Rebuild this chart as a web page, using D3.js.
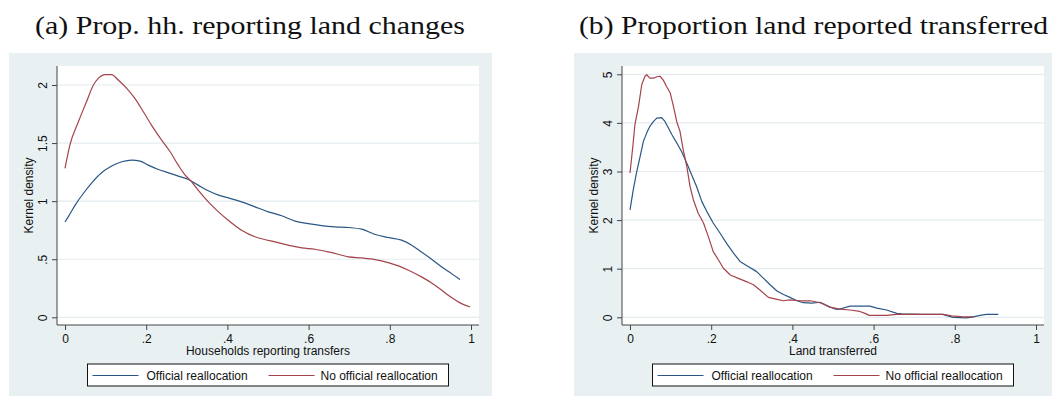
<!DOCTYPE html>
<html>
<head>
<meta charset="utf-8">
<script src="https://cdn.jsdelivr.net/npm/d3@7"></script>
<style>
  body { margin: 0; background: #fff; }
  text { font-family: "Liberation Sans", Arial, sans-serif; }
</style>
</head>
<body>
<div id="chart"></div>
<script>
// series names (legend)
var seriesNames = ["Official reallocation", "No official reallocation"];
var seriesColors = ["#2a5783", "#a3434b"];

// panel (a): households reporting transfers, [x, density]
var aOfficial = [[0,0.822],[0.008,0.865],[0.025,0.966],[0.045,1.066],[0.066,1.158],[0.09,1.244],[0.115,1.302],
  [0.14,1.339],[0.164,1.353],[0.185,1.345],[0.205,1.31],[0.23,1.273],[0.255,1.244],[0.279,1.216],[0.304,1.187],
  [0.328,1.138],[0.353,1.089],[0.378,1.052],[0.402,1.029],[0.435,0.994],[0.468,0.951],[0.501,0.908],[0.534,0.874],
  [0.567,0.828],[0.599,0.807],[0.632,0.79],[0.665,0.779],[0.698,0.773],[0.731,0.759],[0.764,0.713],[0.796,0.687],
  [0.829,0.664],[0.854,0.621],[0.878,0.563],[0.903,0.5],[0.928,0.434],[0.952,0.376],[0.973,0.325]];
var aNoOfficial = [[0,1.282],[0.012,1.483],[0.033,1.684],[0.053,1.856],[0.07,2.0],[0.082,2.057],[0.099,2.089],
  [0.115,2.089],[0.131,2.043],[0.152,1.971],[0.172,1.885],[0.193,1.77],[0.213,1.655],[0.238,1.526],[0.259,1.425],
  [0.279,1.31],[0.296,1.224],[0.312,1.167],[0.328,1.095],[0.353,0.994],[0.378,0.908],[0.402,0.836],[0.435,0.75],
  [0.468,0.693],[0.489,0.672],[0.517,0.649],[0.55,0.621],[0.583,0.598],[0.616,0.586],[0.649,0.563],[0.673,0.543],
  [0.698,0.52],[0.731,0.511],[0.764,0.497],[0.796,0.471],[0.821,0.443],[0.846,0.405],[0.878,0.348],[0.903,0.296],
  [0.928,0.233],[0.952,0.17],[0.973,0.124],[0.998,0.089]];

// panel (b): land transferred, [x, density]
var bOfficial = [[0,2.21],[0.008,2.62],[0.016,2.97],[0.025,3.31],[0.033,3.62],[0.041,3.79],[0.049,3.93],[0.058,4.03],
  [0.066,4.1],[0.078,4.11],[0.086,4.03],[0.095,3.89],[0.103,3.76],[0.115,3.59],[0.127,3.41],[0.14,3.17],[0.152,2.93],
  [0.164,2.69],[0.177,2.38],[0.189,2.18],[0.205,1.94],[0.222,1.73],[0.238,1.52],[0.255,1.32],[0.271,1.15],[0.288,1.06],
  [0.312,0.94],[0.329,0.8],[0.345,0.67],[0.362,0.54],[0.378,0.47],[0.394,0.41],[0.411,0.34],[0.427,0.3],[0.448,0.29],
  [0.468,0.31],[0.49,0.22],[0.505,0.17],[0.517,0.17],[0.542,0.23],[0.591,0.23],[0.608,0.19],[0.632,0.15],[0.657,0.08],
  [0.669,0.07],[0.72,0.06],[0.77,0.06],[0.796,0.0],[0.829,-0.01],[0.846,0.01],[0.862,0.04],[0.878,0.06],[0.907,0.06]];
var bNoOfficial = [[0,2.97],[0.007,3.52],[0.012,3.96],[0.021,4.34],[0.029,4.79],[0.037,4.96],[0.041,4.99],[0.049,4.92],
  [0.058,4.92],[0.066,4.95],[0.074,4.96],[0.082,4.88],[0.09,4.75],[0.099,4.62],[0.107,4.34],[0.115,4.03],[0.123,3.83],
  [0.131,3.45],[0.14,3.1],[0.148,2.69],[0.156,2.42],[0.168,2.14],[0.181,1.94],[0.193,1.66],[0.205,1.35],[0.218,1.18],
  [0.23,1.01],[0.247,0.87],[0.267,0.8],[0.288,0.73],[0.304,0.67],[0.32,0.56],[0.341,0.41],[0.362,0.37],[0.378,0.34],
  [0.394,0.36],[0.419,0.34],[0.444,0.34],[0.468,0.3],[0.48,0.26],[0.492,0.21],[0.517,0.17],[0.542,0.15],[0.566,0.12],
  [0.579,0.08],[0.589,0.04],[0.632,0.04],[0.657,0.06],[0.772,0.06],[0.792,0.03],[0.821,0.01],[0.846,0.01]];

// ticks
var xTicks = [0, 0.2, 0.4, 0.6, 0.8, 1];
var xTickLabels = ["0", ".2", ".4", ".6", ".8", "1"];
var aYTicks = [0, 0.5, 1, 1.5, 2];
var aYTickLabels = ["0", ".5", "1", "1.5", "2"];
var bYTicks = [0, 1, 2, 3, 4, 5];
var bYTickLabels = ["0", "1", "2", "3", "4", "5"];

var svg = d3.select("#chart")
  .append("svg")
    .attr("width", 1052)
    .attr("height", 397);

svg.append("rect").attr("width", 1052).attr("height", 397).attr("fill", "#fff");

function drawPanel(p) {
    var g = svg.append("g");

    // caption above the graph
    g.append("text")
        .attr("x", p.titleX)
        .attr("y", 34)
        .attr("textLength", p.titleW)
        .attr("lengthAdjust", "spacingAndGlyphs")
        .style("font-family", "'Liberation Serif', 'Times New Roman', serif")
        .style("font-size", "26px")
        .attr("fill", "#111")
        .text(p.title);

    // stata graph region
    g.append("rect")
        .attr("x", p.bgLeft).attr("y", 53)
        .attr("width", p.bgRight - p.bgLeft).attr("height", 343)
        .attr("fill", "#e8f0f2");

    var left = p.left, right = p.left + 422, top = 66, bottom = 325;

    g.append("rect")
        .attr("x", left).attr("y", top)
        .attr("width", right - left).attr("height", bottom - top)
        .attr("fill", "#fff");

    var x = d3.scaleLinear().domain([0, 1]).range([left + 8, right - 8]);
    var y = d3.scaleLinear().domain([0, p.yUnit]).range([317.3, 317.3 - p.yPx]);

    // gridlines
    g.selectAll(".grid")
        .data(p.yTicks)
        .enter()
        .append("line")
        .attr("x1", left).attr("x2", right)
        .attr("y1", function(d) { return y(d); })
        .attr("y2", function(d) { return y(d); })
        .attr("stroke", "#e4ecef")
        .attr("stroke-width", 1.2);

    // curves, blue first so red sits on top
    var line = d3.line()
        .x(function(d) { return x(d[0]); })
        .y(function(d) { return y(d[1]); })
        .curve(p.curve);
    p.series.forEach(function(s, i) {
        g.append("path")
            .attr("d", line(s))
            .attr("fill", "none")
            .attr("stroke", seriesColors[i])
            .attr("stroke-width", 1.2)
            .attr("stroke-linejoin", "round");
    });

    // axes, restyled to look like stata
    var yAxis = d3.axisLeft(y)
        .tickValues(p.yTicks)
        .tickSize(5)
        .tickFormat(function(d, i) { return p.yTickLabels[i]; });
    var ya = g.append("g")
        .attr("transform", "translate(" + left + ",0)")
        .call(yAxis);
    ya.select(".domain").attr("d", "M0," + top + "V" + bottom).attr("stroke", "#444");
    ya.selectAll(".tick line").attr("stroke", "#444");
    ya.selectAll(".tick text")
        .attr("x", null).attr("dy", null)
        .attr("transform", "translate(-10,0) rotate(-90)")
        .attr("text-anchor", "middle")
        .style("font-size", "12px")
        .attr("fill", "#111");

    var xAxis = d3.axisBottom(x)
        .tickValues(xTicks)
        .tickSize(5)
        .tickFormat(function(d, i) { return xTickLabels[i]; });
    var xa = g.append("g")
        .attr("transform", "translate(0," + bottom + ")")
        .call(xAxis);
    xa.select(".domain").attr("d", "M" + left + ",0H" + right).attr("stroke", "#444");
    xa.selectAll(".tick line").attr("stroke", "#444");
    xa.selectAll(".tick text")
        .attr("y", 18).attr("dy", null)
        .style("font-size", "12px")
        .attr("fill", "#111");

    // axis titles
    g.append("text")
        .attr("x", (left + right) / 2)
        .attr("y", bottom + 30)
        .attr("text-anchor", "middle")
        .style("font-size", "12px")
        .attr("fill", "#111")
        .text(p.xTitle);
    g.append("text")
        .attr("transform", "translate(" + (left - 24) + "," + ((top + bottom) / 2) + ") rotate(-90)")
        .attr("text-anchor", "middle")
        .style("font-size", "12px")
        .attr("fill", "#111")
        .text("Kernel density");

    // legend
    var lx = (left + right) / 2 - 180.5;
    var leg = g.append("g").attr("transform", "translate(" + lx + ",364)");
    leg.append("rect")
        .attr("x", 0).attr("y", 0)
        .attr("width", 361).attr("height", 22)
        .attr("fill", "#fff")
        .attr("stroke", "#111")
        .attr("stroke-width", 1);
    var keyX = [5, 181], textX = [59, 233];
    seriesNames.forEach(function(name, i) {
        leg.append("line")
            .attr("x1", keyX[i]).attr("x2", keyX[i] + 46)
            .attr("y1", 11.5).attr("y2", 11.5)
            .attr("stroke", seriesColors[i])
            .attr("stroke-width", 1.2);
        leg.append("text")
            .attr("x", textX[i]).attr("y", 16)
            .style("font-size", "12px")
            .attr("fill", "#111")
            .text(name);
    });
}

drawPanel({
    title: "(a) Prop. hh. reporting land changes", titleX: 35, titleW: 430,
    bgLeft: 9, bgRight: 492, left: 57,
    yUnit: 2, yPx: 232.3, yTicks: aYTicks, yTickLabels: aYTickLabels,
    xTitle: "Households reporting transfers",
    series: [aOfficial, aNoOfficial], curve: d3.curveMonotoneX
});

drawPanel({
    title: "(b) Proportion land reported transferred", titleX: 579, titleW: 469,
    bgLeft: 574, bgRight: 1052, left: 622,
    yUnit: 5, yPx: 243, yTicks: bYTicks, yTickLabels: bYTickLabels,
    xTitle: "Land transferred",
    series: [bOfficial, bNoOfficial], curve: d3.curveLinear
});
</script>
</body>
</html>
